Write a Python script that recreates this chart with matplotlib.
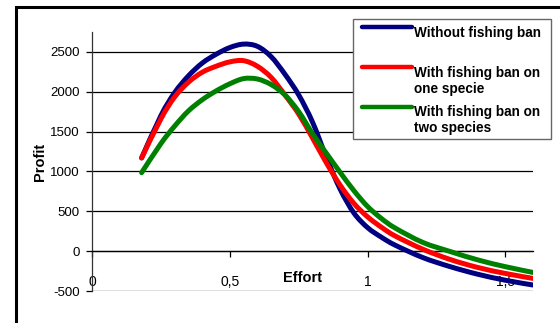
import matplotlib
matplotlib.use("Agg")
import matplotlib.pyplot as plt
from matplotlib.patches import Rectangle, PathPatch
from matplotlib.lines import Line2D
from matplotlib.path import Path

plt.rcParams['font.family'] = ['Liberation Sans', 'DejaVu Sans']

# Effort levels and profits for the three management scenarios
effort = [0.18, 0.25, 0.30, 0.35, 0.40, 0.45, 0.50, 0.55, 0.60, 0.65, 0.70,
          0.75, 0.80, 0.85, 0.90, 0.95, 1.00, 1.05, 1.10, 1.20, 1.30, 1.40,
          1.50, 1.60]
profit_no_ban = [1170, 1700, 1990, 2200, 2360, 2470, 2555, 2598, 2570, 2440,
                 2220, 1960, 1620, 1180, 780, 480, 295, 175, 75, -80, -195,
                 -290, -365, -425]
profit_ban_one = [1170, 1660, 1935, 2120, 2245, 2320, 2375, 2390, 2320, 2180,
                  1960, 1720, 1420, 1110, 830, 600, 430, 300, 190, 25, -105,
                  -205, -280, -342]
profit_ban_two = [985, 1350, 1570, 1760, 1900, 2010, 2100, 2165, 2160, 2090,
                  1960, 1750, 1475, 1230, 990, 760, 560, 410, 290, 110, -5,
                  -110, -195, -267]

series_labels = ["Without fishing ban",
                 "With fishing ban on\none specie",
                 "With fishing ban on\ntwo species"]
series_colors = ["#000080", "#FF0000", "#008000"]

x_ticks = [0, 0.5, 1, 1.5]
x_tick_labels = ["0", "0,5", "1", "1,5"]
y_ticks = [-500, 0, 500, 1000, 1500, 2000, 2500]

W, H = 560, 323
fig = plt.figure(figsize=(W / 100, H / 100), dpi=100)


def fx(px):
    return px / W


def fy(py):
    return 1 - py / H


def smooth_path(xs, ys):
    """Catmull-Rom curve through the points, as cubic Bezier segments."""
    pts = list(zip(xs, ys))
    verts = [pts[0]]
    codes = [Path.MOVETO]
    n = len(pts)
    for i in range(n - 1):
        p0 = pts[i - 1] if i > 0 else pts[i]
        p1 = pts[i]
        p2 = pts[i + 1]
        p3 = pts[i + 2] if i + 2 < n else pts[i + 1]
        c1 = (p1[0] + (p2[0] - p0[0]) / 6, p1[1] + (p2[1] - p0[1]) / 6)
        c2 = (p2[0] - (p3[0] - p1[0]) / 6, p2[1] - (p3[1] - p1[1]) / 6)
        verts += [c1, c2, p2]
        codes += [Path.CURVE4] * 3
    return Path(verts, codes)


# outer chart frame
fig.add_artist(Rectangle((fx(16), fy(400)), fx(700), fy(7) - fy(400),
                         transform=fig.transFigure, fill=False,
                         edgecolor="black", lw=2.2))

ax = fig.add_axes([fx(92), fy(291), fx(533) - fx(92), fy(32) - fy(291)])
ax.set_xlim(0, 1.6)
ax.set_ylim(-500, 2750)

for vals, col in zip([profit_no_ban, profit_ban_one, profit_ban_two], series_colors):
    ax.add_patch(PathPatch(smooth_path(effort, vals), facecolor="none",
                           edgecolor=col, lw=3.6, capstyle="round",
                           joinstyle="round", zorder=3))

ax.set_yticks(y_ticks)
ax.set_yticklabels([str(v) for v in y_ticks], fontsize=9.5)
ax.set_xticks(x_ticks)
ax.set_xticklabels(x_tick_labels, fontsize=9.5)
ax.yaxis.grid(True, color="black", lw=0.9)
ax.set_axisbelow(True)

for s in ["top", "right"]:
    ax.spines[s].set_visible(False)
ax.spines["bottom"].set_position(("data", 0))
ax.spines["bottom"].set_linewidth(0.9)
ax.spines["left"].set_linewidth(0.9)
ax.spines["left"].set_color("#333333")
ax.tick_params(axis="y", direction="out", length=4, width=0.9, pad=5)
ax.tick_params(axis="x", direction="out", length=4, width=0.9, pad=13)

ax.text(0.478, 0.05, "Effort", transform=ax.transAxes, ha="center",
        va="center", fontsize=10.5, fontweight="bold")
fig.text(fx(40), fy(162), "Profit", rotation=90, ha="center", va="center",
         fontsize=10.5, fontweight="bold")

# legend box
fig.add_artist(Rectangle((fx(353), fy(139)), fx(551) - fx(353), fy(19) - fy(139),
                         transform=fig.transFigure, facecolor="white",
                         edgecolor="#666666", lw=1.0, zorder=5))
line_rows = [27, 67, 107]
text_rows = [33, 81, 120]
for lab, col, ly, ty in zip(series_labels, series_colors, line_rows, text_rows):
    fig.add_artist(Line2D([fx(362), fx(412)], [fy(ly), fy(ly)],
                          transform=fig.transFigure, color=col, lw=3.2,
                          solid_capstyle="round", zorder=6))
    fig.text(fx(414), fy(ty), lab, ha="left", va="center", fontsize=9.8,
             fontweight="bold", linespacing=1.15, zorder=6)

fig.savefig("out.png", dpi=100)
